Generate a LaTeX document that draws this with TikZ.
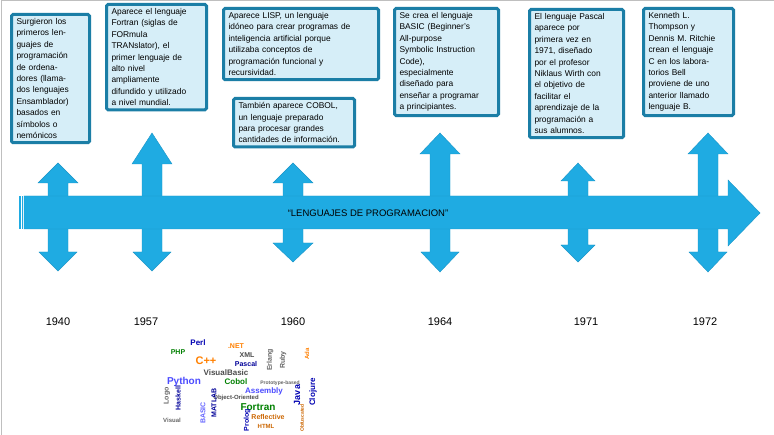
\documentclass[tikz,border=0pt]{standalone}
\usepackage{fontspec}
\setmainfont{Liberation Sans}
\begin{document}
\begin{tikzpicture}[x=1pt,y=-1pt,
  arr/.style={fill=arrowblue,draw=arrowedge,line width=0.4pt},
  infobox/.style={draw=boxedge,line width=3pt,fill=boxfill,rounded corners=1.5pt,anchor=north west,inner xsep=5pt,inner ysep=4pt,align=left,font=\fontsize{8.4}{11.4}\selectfont},
  year/.style={font=\fontsize{11}{12}\selectfont},
  cw/.style={font=\fontsize{#1}{#1}\selectfont\bfseries,inner sep=0pt}]
\definecolor{arrowblue}{HTML}{1FABE2}
\definecolor{arrowedge}{HTML}{1A95C8}
\definecolor{boxedge}{HTML}{1B7EA6}
\definecolor{boxfill}{HTML}{D6EEF8}
\useasboundingbox (0,0) rectangle (774,435);
\fill[white] (0,0) rectangle (774,435);
\draw[gray!50,line width=1pt] (1,435) -- (1,1) -- (774,1);
\newcommand\tlarrow[7]{%
  \draw[arr] (#1-10,#3) -- (#1-#4,#3) -- (#1,#2) -- (#1+#4,#3) -- (#1+10,#3)
   -- (#1+10,#5) -- (#1+#7,#5) -- (#1,#6) -- (#1-#7,#5) -- (#1-10,#5) -- cycle;}
\tlarrow{58}{163}{183}{20}{252}{271}{19}
\tlarrow{152}{133}{164}{20}{252}{271}{19}
\tlarrow{293}{163}{183}{20}{243}{262}{20}
\tlarrow{440}{133}{154}{20}{252}{272}{19}
\tlarrow{578}{163}{181}{17}{245}{262}{17}
\tlarrow{708}{133}{154}{20}{252}{272}{19}
\draw[arr] (24,196) -- (728,196) -- (728,180) -- (760,213) -- (728,246) -- (728,229) -- (24,229) -- cycle;
\fill[arrowblue] (19,196) rectangle (20.5,229);
\fill[arrowblue] (21.5,196) rectangle (23,229);
\node[font=\fontsize{9.5}{10}\selectfont] (title) at (368,213) {“LENGUAJES DE PROGRAMACION”};
\node[infobox,text width=68pt] (b1) at (10,13) {Surgieron los\\primeros len-\\guajes de\\programación\\de ordena-\\dores (llama-\\dos lenguajes\\Ensamblador)\\ basados en\\símbolos o\\nemónicos};
\node[infobox,text width=90pt] (b2) at (105,3) {Aparece el lenguaje\\Fortran (siglas de\\FORmula\\TRANslator), el\\primer lenguaje de\\alto nivel\\ampliamente\\difundido y utilizado\\a nivel mundial.};
\node[infobox,text width=145pt] (b3) at (222,7) {Aparece LISP, un lenguaje\\idóneo para crear programas de\\inteligencia artificial porque\\utilizaba conceptos de\\programación funcional y\\recursividad.};
\node[infobox,text width=111pt] (b4) at (232,97) {También aparece COBOL,\\un lenguaje preparado\\para procesar grandes\\cantidades de información.};
\node[infobox,text width=94pt] (b5) at (393,7) {Se crea el lenguaje\\BASIC (Beginner's\\All-purpose\\Symbolic Instruction\\Code),\\especialmente\\diseñado para\\enseñar a programar\\a principiantes.};
\node[infobox,text width=84pt] (b6) at (528,8) {El lenguaje Pascal\\aparece por\\primera vez en\\1971, diseñado\\por el profesor\\Niklaus Wirth con\\el objetivo de\\facilitar el\\aprendizaje de la\\programación a\\sus alumnos.};
\node[infobox,text width=80pt] (b7) at (642,7) {Kenneth L.\\Thompson y\\Dennis M. Ritchie\\crean el lenguaje\\C en los labora-\\torios Bell\\proviene de uno\\anterior llamado\\lenguaje B.};
\node[year] (y1) at (58,322) {1940};
\node[year] (y2) at (146,322) {1957};
\node[year] (y3) at (293,322) {1960};
\node[year] (y4) at (440,322) {1964};
\node[year] (y5) at (586,322) {1971};
\node[year] (y6) at (705,322) {1972};
% word cloud
\node[cw=8,text=blue!70!black] (w1) at (198,343) {Perl};
\node[cw=7,text=green!50!black] (w2) at (178,352) {PHP};
\node[cw=11,text=orange] (w3) at (206,361) {C++};
\node[cw=7,text=orange] (w4) at (236,346) {.NET};
\node[cw=7,text=black!70] (w5) at (247,355) {XML};
\node[cw=7,text=blue!60!black] (w6) at (246,364) {Pascal};
\node[cw=8,text=black!70] (w7) at (226,373) {VisualBasic};
\node[cw=10,text=blue!70] (w8) at (184,382) {Python};
\node[cw=8,text=green!50!black] (w9) at (236,382) {Cobol};
\node[cw=5,text=black!60] (w10) at (280,383) {Prototype-based};
\node[cw=8,text=blue!70] (w11) at (264,391) {Assembly};
\node[cw=6,text=black!70] (w12) at (236,398) {Object-Oriented};
\node[cw=10,text=green!50!black] (w13) at (258,407) {Fortran};
\node[cw=9,text=blue!70!black,rotate=90] (w14) at (297,395) {Java};
\node[cw=8,text=blue!70!black,rotate=90] (w15) at (313,392) {Clojure};
\node[cw=7,text=orange!80!black] (w16) at (268,417) {Reflective};
\node[cw=6,text=orange!80!black] (w17) at (266,426) {HTML};
\node[cw=7,text=blue!60!black,rotate=90] (w18) at (214,403) {MATLAB};
\node[cw=7,text=blue!60,rotate=90] (w19) at (203,413) {BASIC};
\node[cw=7,text=blue!60!black,rotate=90] (w20) at (178,398) {Haskell};
\node[cw=7,text=black!60,rotate=90] (w21) at (167,396) {Logo};
\node[cw=6,text=black!60] (w22) at (172,420) {Visual};
\node[cw=7,text=blue!70!black,rotate=90] (w23) at (247,420) {Prolog};
\node[cw=5,text=orange!80!black,rotate=90] (w24) at (302,418) {Obfuscated};
\node[cw=6,text=orange,rotate=90] (w25) at (307,354) {Ada};
\node[cw=7,text=black!60,rotate=90] (w26) at (270,360) {Erlang};
\node[cw=7,text=black!60,rotate=90] (w27) at (283,360) {Ruby};
\end{tikzpicture}
\end{document}
